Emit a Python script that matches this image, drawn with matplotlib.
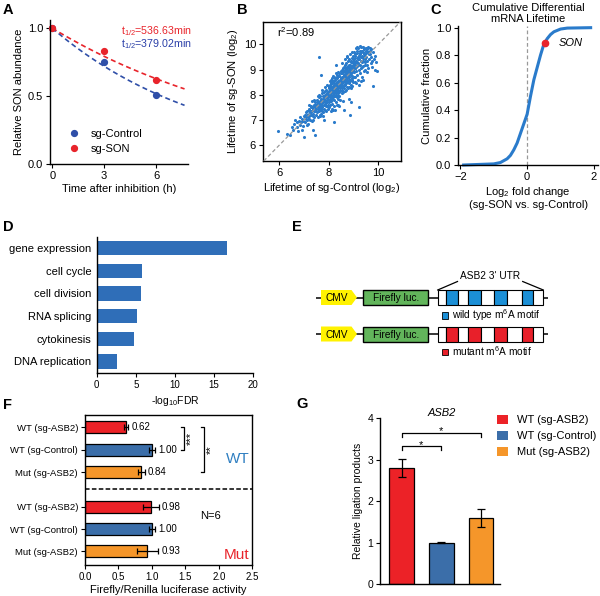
import numpy as np
import matplotlib
matplotlib.use('Agg')
import matplotlib.pyplot as plt
from matplotlib.patches import Rectangle, Polygon, Patch

plt.rcParams['font.family'] = ['Liberation Sans', 'DejaVu Sans']
plt.rcParams['mathtext.fontset'] = 'custom'
plt.rcParams['mathtext.rm'] = 'Liberation Sans'
plt.rcParams['mathtext.it'] = 'Liberation Sans:italic'
plt.rcParams['mathtext.bf'] = 'Liberation Sans:bold'
plt.rcParams['axes.linewidth'] = 1.0
plt.rcParams['xtick.major.size'] = 3
plt.rcParams['ytick.major.size'] = 3
plt.rcParams['xtick.major.pad'] = 2
plt.rcParams['ytick.major.pad'] = 2

# ---------------- data ----------------
# A
time_h = [0, 3, 6]
control_abund = [1.0, 0.75, 0.51]
son_abund = [1.0, 0.83, 0.62]
half_life_control = 379.02
half_life_son = 536.63

# B  (lifetime of sg-Control, lifetime of sg-SON), log2
lifetime_points = [
    (5.94, 6.57), (6.3, 6.45), (6.45, 6.4), (6.55, 6.6), (6.6, 6.85), (6.7, 6.7), (6.75, 6.55), (6.8, 6.95),
    (6.85, 6.8), (6.9, 7.05), (6.95, 6.75), (7.0, 6.33), (6.65, 7.0), (6.9, 6.6), (6.98, 7.15), (6.72, 6.9),
    (6.88, 6.9), (6.5, 6.72), (6.95, 6.95), (6.82, 7.1),
    (7.02, 7.1), (7.05, 6.9), (7.08, 7.3), (7.1, 7.0), (7.12, 7.2), (7.15, 6.85), (7.18, 7.4), (7.2, 7.15),
    (7.22, 7.05), (7.25, 7.3), (7.28, 7.5), (7.3, 7.2), (7.32, 6.95), (7.35, 7.4), (7.38, 7.25), (7.4, 7.6),
    (7.42, 7.1), (7.44, 6.4), (7.45, 7.35), (7.48, 7.5), (7.05, 7.2), (7.1, 7.35), (7.15, 7.1), (7.2, 7.45),
    (7.25, 7.0), (7.3, 7.55), (7.35, 7.15), (7.4, 7.35), (7.45, 7.7), (7.48, 7.2), (7.12, 6.8), (7.22, 7.6),
    (7.33, 7.75), (7.38, 7.0), (7.46, 7.45), (7.28, 7.35), (7.18, 7.25), (7.08, 7.05), (7.4, 7.8), (7.36, 6.6),
    (7.5, 7.6), (7.52, 7.3), (7.54, 7.8), (7.55, 7.45), (7.57, 7.1), (7.58, 7.65), (7.6, 7.5), (7.61, 7.9),
    (7.62, 7.35), (7.64, 7.7), (7.65, 7.55), (7.66, 7.2), (7.68, 7.85), (7.69, 7.6), (7.7, 7.4), (7.71, 8.05),
    (7.72, 7.7), (7.74, 7.5), (7.75, 7.95), (7.76, 7.3), (7.78, 7.75), (7.79, 7.6), (7.8, 8.1), (7.81, 7.45),
    (7.82, 7.85), (7.84, 7.65), (7.85, 8.0), (7.86, 7.4), (7.88, 7.9), (7.89, 7.7), (7.9, 8.2), (7.91, 7.55),
    (7.92, 7.95), (7.94, 7.8), (7.95, 8.1), (7.96, 7.6), (7.98, 7.85), (7.99, 8.3), (7.53, 7.55), (7.58, 7.95),
    (7.63, 7.15), (7.67, 7.45), (7.73, 8.2), (7.77, 7.15), (7.83, 8.3), (7.87, 7.55), (7.93, 8.4), (7.97, 7.45),
    (7.6, 8.0), (7.7, 7.25), (7.68, 8.77), (7.6, 9.48), (7.8, 7.0), (7.9, 7.35), (7.56, 7.7), (7.66, 7.95),
    (7.74, 7.35), (7.84, 8.15), (7.94, 7.7), (7.98, 8.05),
    (8.0, 8.0), (8.01, 7.7), (8.02, 8.25), (8.03, 7.9), (8.04, 8.4), (8.05, 7.6), (8.06, 8.1), (8.07, 7.85),
    (8.08, 8.35), (8.09, 8.0), (8.1, 7.75), (8.11, 8.2), (8.12, 8.5), (8.13, 7.95), (8.14, 8.15), (8.15, 7.65),
    (8.16, 8.3), (8.17, 8.05), (8.18, 8.55), (8.19, 7.85), (8.2, 8.25), (8.21, 8.0), (8.22, 8.45), (8.23, 7.8),
    (8.24, 8.15), (8.25, 8.35), (8.26, 7.95), (8.27, 8.6), (8.28, 8.1), (8.29, 7.7), (8.3, 8.3), (8.31, 8.05),
    (8.32, 8.5), (8.33, 7.9), (8.34, 8.2), (8.35, 8.65), (8.36, 8.0), (8.37, 8.4), (8.38, 7.85), (8.39, 8.25),
    (8.4, 8.55), (8.41, 8.1), (8.42, 8.75), (8.43, 7.95), (8.44, 8.35), (8.45, 8.5), (8.46, 8.15), (8.47, 7.8),
    (8.48, 8.45), (8.49, 8.65), (8.02, 7.5), (8.08, 8.6), (8.12, 7.45), (8.18, 8.75), (8.22, 7.55), (8.28, 8.85),
    (8.32, 7.6), (8.38, 8.9), (8.42, 7.55), (8.48, 8.95), (8.05, 8.2), (8.15, 8.45), (8.25, 8.1), (8.35, 8.45),
    (8.45, 8.3), (8.1, 8.05), (8.2, 8.4), (8.3, 8.15), (8.4, 8.3), (8.03, 8.55), (8.13, 8.65), (8.23, 8.7),
    (8.33, 8.8), (8.43, 8.85), (8.07, 7.35), (8.17, 7.4), (8.27, 7.4), (8.37, 7.6), (8.2, 6.9), (8.3, 9.2),
    (8.5, 8.6), (8.51, 8.3), (8.52, 8.85), (8.53, 8.45), (8.54, 9.0), (8.55, 8.2), (8.56, 8.7), (8.57, 8.5),
    (8.58, 9.05), (8.59, 8.35), (8.6, 8.8), (8.61, 8.6), (8.62, 9.1), (8.63, 8.25), (8.64, 8.9), (8.65, 8.55),
    (8.66, 9.2), (8.67, 8.4), (8.68, 8.75), (8.69, 8.95), (8.7, 8.5), (8.71, 9.25), (8.72, 8.65), (8.73, 8.3),
    (8.74, 9.0), (8.75, 8.8), (8.76, 9.35), (8.77, 8.55), (8.78, 8.9), (8.79, 9.15), (8.8, 8.45), (8.81, 9.05),
    (8.82, 8.7), (8.83, 9.4), (8.84, 8.85), (8.85, 8.6), (8.86, 9.2), (8.87, 8.95), (8.88, 8.4), (8.89, 9.3),
    (8.9, 8.8), (8.91, 9.1), (8.92, 8.65), (8.93, 9.45), (8.94, 9.0), (8.95, 8.75), (8.96, 9.25), (8.97, 8.5),
    (8.98, 9.1), (8.99, 9.55), (8.52, 8.05), (8.58, 8.1), (8.64, 8.15), (8.7, 8.2), (8.76, 8.25), (8.82, 8.3),
    (8.88, 8.25), (8.94, 8.35), (8.55, 9.25), (8.65, 9.4), (8.75, 9.5), (8.85, 9.6), (8.95, 9.7), (8.6, 8.95),
    (8.7, 8.85), (8.8, 9.0), (8.9, 9.15), (8.53, 8.7), (8.63, 8.7), (8.73, 8.6), (8.83, 8.6), (8.93, 8.9),
    (8.57, 7.75), (8.8, 7.85), (8.9, 7.7), (8.62, 7.4), (8.85, 7.2), (8.72, 9.55), (8.98, 8.7), (8.68, 9.05),
    (9.0, 9.2), (9.02, 8.9), (9.04, 9.45), (9.05, 9.05), (9.07, 8.7), (9.08, 9.6), (9.1, 9.3), (9.11, 8.95),
    (9.13, 9.75), (9.14, 9.15), (9.16, 8.8), (9.17, 9.5), (9.19, 9.25), (9.2, 9.85), (9.22, 9.0), (9.23, 9.4),
    (9.23, 7.52), (9.25, 9.65), (9.26, 8.85), (9.28, 9.2), (9.29, 9.9), (9.31, 9.5), (9.32, 9.05), (9.34, 9.75),
    (9.35, 8.7), (9.37, 9.35), (9.38, 9.9), (9.4, 9.15), (9.41, 9.6), (9.43, 8.95), (9.44, 9.8), (9.46, 9.4),
    (9.47, 9.0), (9.49, 9.65), (9.03, 9.7), (9.09, 9.85), (9.15, 9.9), (9.21, 9.55), (9.27, 9.95), (9.33, 9.3),
    (9.39, 8.6), (9.45, 9.2), (9.06, 8.5), (9.12, 8.45), (9.18, 8.6), (9.24, 8.4), (9.3, 8.55), (9.36, 9.55),
    (9.42, 9.85), (9.48, 9.3), (9.01, 9.35), (9.1, 9.1), (9.2, 9.2), (9.3, 9.35), (9.4, 9.45), (9.05, 9.55),
    (9.15, 9.65), (9.25, 9.75), (9.35, 9.1), (9.45, 9.55),
    (9.5, 9.5), (9.52, 9.85), (9.55, 9.2), (9.57, 9.7), (9.6, 9.9), (9.62, 9.4), (9.65, 9.6), (9.68, 9.85),
    (9.7, 9.25), (9.72, 9.5), (9.75, 9.1), (9.78, 9.7), (9.8, 8.35), (9.82, 9.4), (9.85, 9.0), (9.88, 9.55),
    (9.93, 8.95), (9.58, 9.05), (9.66, 9.75), (9.74, 9.35), (9.55, 8.9), (9.62, 9.6), (9.7, 9.8), (9.9, 9.3),
    (9.53, 9.35),
    (7.62, 7.62), (7.66, 7.75), (7.7, 7.65), (7.74, 7.8), (7.78, 7.7), (7.82, 7.95), (7.86, 7.8), (7.9, 8.0),
    (7.94, 7.9), (7.98, 8.1), (8.02, 8.0), (8.06, 8.2), (8.1, 8.1), (8.14, 8.3), (8.18, 8.15), (8.22, 8.35),
    (8.26, 8.25), (8.3, 8.45), (8.34, 8.3), (8.38, 8.55), (8.42, 8.4), (8.46, 8.6), (8.5, 8.45), (8.54, 8.65),
    (8.58, 8.55), (8.62, 8.8), (8.66, 8.65), (8.7, 8.9), (8.74, 8.75), (8.78, 8.95), (8.82, 8.85), (8.86, 9.05),
    (8.9, 8.95), (8.94, 9.15), (8.98, 9.0), (9.02, 9.2), (9.06, 9.1), (9.1, 9.35), (9.14, 9.2), (9.18, 9.4),
    (7.64, 7.5), (7.68, 7.55), (7.72, 7.6), (7.76, 7.85), (7.8, 7.75), (7.84, 7.9), (7.88, 7.75), (7.92, 8.05),
    (7.96, 7.95), (8.0, 8.15), (8.04, 8.05), (8.08, 7.95), (8.12, 8.25), (8.16, 8.1), (8.2, 8.3), (8.24, 8.2),
    (8.28, 8.4), (8.32, 8.25), (8.36, 8.5), (8.4, 8.35), (8.44, 8.55), (8.48, 8.4), (8.52, 8.6), (8.56, 8.5),
    (8.6, 8.7), (8.64, 8.6), (8.68, 8.85), (8.72, 8.7), (8.76, 8.95), (8.8, 8.8), (8.84, 9.0), (8.88, 8.85),
    (8.92, 9.1), (8.96, 8.95), (9.0, 9.15), (9.04, 9.05), (9.08, 9.25), (9.12, 9.15), (9.16, 9.3), (9.2, 9.45),
    (8.01, 8.35), (8.09, 8.45), (8.17, 8.55), (8.25, 8.65), (8.33, 8.7), (8.41, 8.75), (8.49, 8.85), (8.57, 8.9),
    (8.65, 9.0), (8.73, 9.1), (8.81, 9.2), (8.89, 9.35), (8.97, 9.4),
    (8.05, 7.8), (8.13, 7.9), (8.21, 7.95), (8.29, 8.0), (8.37, 8.1), (8.45, 8.2), (8.53, 8.3), (8.61, 8.4),
    (8.69, 8.45), (8.77, 8.5), (8.85, 8.55), (8.93, 8.6), (9.01, 8.7),
    (7.3, 7.3), (7.34, 7.5), (7.38, 7.45), (7.42, 7.55), (7.46, 7.6), (7.5, 7.45), (7.54, 7.65), (7.58, 7.55),
    (9.24, 9.55), (9.28, 9.6), (9.32, 9.7), (9.36, 9.75), (9.4, 9.7), (9.44, 9.65), (9.5, 9.75), (9.56, 9.8),
]
r_squared = 0.89

# C
log2fc = [-1.9, -1.0, -0.8, -0.6, -0.5, -0.4, -0.3, -0.2, -0.1, 0.0, 0.1, 0.2, 0.3, 0.4, 0.5,
          0.6, 0.7, 0.8, 0.9, 1.0, 1.2, 1.9]
cum_frac = [0.0, 0.008, 0.018, 0.045, 0.07, 0.11, 0.16, 0.23, 0.30, 0.37, 0.50, 0.62, 0.71, 0.80,
            0.88, 0.92, 0.95, 0.97, 0.98, 0.99, 0.997, 1.0]
son_fc, son_frac = 0.52, 0.89

# D
go_terms = ['gene expression', 'cell cycle', 'cell division', 'RNA splicing', 'cytokinesis', 'DNA replication']
go_neglog10fdr = [16.6, 5.8, 5.7, 5.2, 4.7, 2.6]

# F
f_labels = ['WT (sg-ASB2)', 'WT (sg-Control)', 'Mut (sg-ASB2)'] * 2
f_values = [0.62, 1.00, 0.84, 0.98, 1.00, 0.93]
f_errors = [0.03, 0.05, 0.05, 0.12, 0.05, 0.16]

# G
g_labels = ['WT (sg-ASB2)', 'WT (sg-Control)', 'Mut (sg-ASB2)']
g_values = [2.80, 1.00, 1.60]
g_errors = [0.22, 0.01, 0.22]

# ---------------- styling ----------------
RED = '#e8242b'
BLUE_DOT = '#2f4fa8'
SCAT = '#2a7bcb'
BAR_D = '#2f6eb8'
C_RED = '#ec2227'
C_BLUE = '#3b6ea9'
C_ORANGE = '#f5962a'

W, H = 600, 596
fig = plt.figure(figsize=(6, 5.96), dpi=100)


def box(l, t, r, b):
    return fig.add_axes([l / W, 1 - b / H, (r - l) / W, (b - t) / H])


def ftext(x, y, s, **kw):
    fig.text(x / W, 1 - y / H, s, **kw)


# ---------------- E (schematic, overlay) ----------------
axE = fig.add_axes([0, 0, 1, 1])
axE.set_xlim(0, W)
axE.set_ylim(H, 0)
axE.axis('off')
axE.patch.set_visible(False)
utr_edges = [437.7, 446, 458.3, 468.3, 480.7, 494, 506.7, 521.7, 533.3, 543.3]
E_BLUE = '#1b8fd6'
E_RED = '#e8202a'
for yc, motif_col, motif_txt in [(297.5, E_BLUE, 'wild type m$^6$A motif'),
                                 (334.0, E_RED, 'mutant m$^6$A motif')]:
    axE.plot([316, 548.3], [yc, yc], color='k', lw=1.1, zorder=1, solid_capstyle='butt')
    axE.add_patch(Polygon([(321, yc - 7.5), (351.5, yc - 7.5), (357, yc), (351.5, yc + 7.5), (321, yc + 7.5)],
                          closed=True, facecolor='#fff200', edgecolor='none', zorder=2))
    axE.text(337, yc + 0.5, 'CMV', ha='center', va='center', fontsize=7.3, zorder=3)
    axE.add_patch(Rectangle((363.3, yc - 7.5), 65, 15, facecolor='#62b55b', edgecolor='k', lw=1.0, zorder=2))
    axE.text(395.8, yc + 0.5, 'Firefly luc.', ha='center', va='center', fontsize=7.3, zorder=3)
    for i in range(len(utr_edges) - 1):
        fc = motif_col if i % 2 == 1 else 'white'
        axE.add_patch(Rectangle((utr_edges[i], yc - 7.5), utr_edges[i + 1] - utr_edges[i], 15,
                                facecolor=fc, edgecolor='k', lw=0.8, zorder=2))
    axE.add_patch(Rectangle((441.7, yc + 14.5), 6.6, 6.6, facecolor=motif_col, edgecolor='k', lw=0.6, zorder=2))
    axE.text(452.5, yc + 17.5, motif_txt, ha='left', va='center', fontsize=7.3)
axE.plot([437.7, 457.5], [290, 281.5], color='k', lw=0.9)
axE.plot([522.7, 543.3], [281.5, 290], color='k', lw=0.9)
axE.text(490, 276, "ASB2 3' UTR", ha='center', va='center', fontsize=7.3)

# ---------------- A ----------------
axA = box(50, 20, 188, 164)
t = np.linspace(0, 7.65, 100)
axA.plot(t, 0.5 ** (t * 60 / half_life_control), ls=(0, (3, 2)), color=BLUE_DOT, lw=1.2)
axA.plot(t, 0.5 ** (t * 60 / half_life_son), ls=(0, (3, 2)), color=RED, lw=1.2)
axA.plot(time_h, control_abund, 'o', color=BLUE_DOT, ms=4.2, label='sg-Control', clip_on=False)
axA.plot(time_h, son_abund, 'o', color=RED, ms=4.2, label='sg-SON', clip_on=False)
axA.set_xlim(-0.13, 7.85)
axA.set_ylim(0, 1.06)
axA.set_xticks([0, 3, 6])
axA.set_yticks([0, 0.5, 1.0])
axA.set_yticklabels(['0.0', '0.5', '1.0'])
axA.tick_params(labelsize=8)
for s in ['top', 'right']:
    axA.spines[s].set_visible(False)
axA.set_xlabel('Time after inhibition (h)', fontsize=8, labelpad=2)
axA.set_ylabel('Relative SON abundance', fontsize=8, labelpad=3)
ftext(121, 31.5, 't$_{1/2}$=%.2fmin' % half_life_son, color=RED, fontsize=7.7, va='center')
ftext(121, 44, 't$_{1/2}$=%.2fmin' % half_life_control, color='#2a3fa8', fontsize=7.7, va='center')
axA.legend(loc='lower left', bbox_to_anchor=(0.04, 0.0), frameon=False, fontsize=8,
           handletextpad=0.8, labelspacing=0.45, handlelength=1.5)

# ---------------- B ----------------
axB = box(263, 21.7, 401, 161)
pts = np.array(lifetime_points)
axB.scatter(pts[:, 0], pts[:, 1], s=5, color=SCAT, linewidths=0, zorder=2)
axB.axline((6, 6), slope=1, color='#999999', ls=(0, (3, 2)), lw=0.9, zorder=3)
axB.set_xlim(5.34, 10.92)
axB.set_ylim(5.37, 10.9)
axB.set_xticks([6, 8, 10])
axB.set_yticks([6, 7, 8, 9, 10])
axB.tick_params(labelsize=8)
axB.set_xlabel('Lifetime of sg-Control (log$_2$)', fontsize=8, labelpad=2)
axB.set_ylabel('Lifetime of sg-SON (log$_2$)', fontsize=8, labelpad=3)
axB.text(0.1, 0.89, 'r$^2$=%.2f' % r_squared, transform=axB.transAxes, fontsize=8)

# ---------------- C ----------------
axC = box(458.3, 26.3, 598, 165)
axC.plot(log2fc, cum_frac, color=SCAT, lw=2.2, clip_on=False, zorder=2)
axC.axvline(0, color='#999999', ls=(0, (3, 2)), lw=0.9, zorder=1)
axC.plot([son_fc], [son_frac], 'o', color=RED, ms=4.5, zorder=3)
axC.text(son_fc + 0.42, son_frac, 'SON', style='italic', fontsize=8, va='center')
axC.set_xlim(-2.06, 2.12)
axC.set_ylim(0, 1.01)
axC.set_xticks([-2, 0, 2])
axC.set_yticks([0, 0.2, 0.4, 0.6, 0.8, 1.0])
axC.set_yticklabels(['0.0', '0.2', '0.4', '0.6', '0.8', '1.0'])
axC.tick_params(labelsize=8)
for s in ['top', 'right']:
    axC.spines[s].set_visible(False)
axC.set_xlabel('Log$_2$ fold change\n(sg-SON vs. sg-Control)', fontsize=8, labelpad=2, linespacing=1.1)
axC.set_ylabel('Cumulative fraction', fontsize=8, labelpad=3)
axC.set_title('Cumulative Differential\nmRNA Lifetime', fontsize=8, pad=3, linespacing=1.1)

# ---------------- D ----------------
axD = box(96.7, 236.7, 253.3, 372.7)
yD = np.arange(len(go_terms))
axD.barh(yD, go_neglog10fdr, height=0.63, color=BAR_D)
axD.set_ylim(5.5, -0.5)
axD.set_xlim(0, 20)
axD.set_yticks(yD)
axD.set_yticklabels(go_terms, fontsize=8)
axD.tick_params(axis='y', length=0, pad=4)
axD.set_xticks([0, 5, 10, 15, 20])
axD.tick_params(axis='x', labelsize=7)
for s in ['top', 'right']:
    axD.spines[s].set_visible(False)
axD.set_xlabel('-log$_{10}$FDR', fontsize=7.5, labelpad=3)

# ---------------- F ----------------
axF = box(85, 415, 252.3, 565)
yF = [0, 1, 2, 3.55, 4.55, 5.55]
colsF = [C_RED, C_BLUE, C_ORANGE] * 2
axF.barh(yF, f_values, height=0.53, color=colsF, edgecolor='k', linewidth=0.9,
         xerr=f_errors, error_kw=dict(ecolor='k', elinewidth=0.9, capsize=2, capthick=0.9))
for y, v, e in zip(yF, f_values, f_errors):
    axF.text(v + e + 0.05, y, '%.2f' % v, va='center', ha='left', fontsize=7)
axF.axhline(2.77, color='k', ls=(0, (3, 1.5)), lw=1.1)
axF.set_xlim(0, 2.5)
axF.set_ylim(6.16, -0.55)
axF.set_yticks(yF)
axF.set_yticklabels(f_labels, fontsize=6.8)
axF.set_xticks([0, 0.5, 1.0, 1.5, 2.0, 2.5])
axF.set_xticklabels(['0.0', '0.5', '1.0', '1.5', '2.0', '2.5'])
axF.tick_params(axis='x', labelsize=7)
axF.set_xlabel('Firefly/Renilla luciferase activity', fontsize=8, labelpad=2)
axF.plot([1.44, 1.48, 1.48, 1.44], [0, 0, 1, 1], color='k', lw=0.9)
axF.text(1.58, 0.5, '***', rotation=90, ha='center', va='center', fontsize=8)
axF.plot([1.74, 1.78, 1.78, 1.74], [0, 0, 2, 2], color='k', lw=0.9)
axF.text(1.88, 1.0, '**', rotation=90, ha='center', va='center', fontsize=8)
axF.text(2.29, 1.43, 'WT', color='#2f7fc1', fontsize=11, ha='center', va='center')
axF.text(2.27, 5.73, 'Mut', color=RED, fontsize=11, ha='center', va='center')
axF.text(1.87, 3.96, 'N=6', fontsize=8, ha='center', va='center')

# ---------------- G ----------------
axG = box(380, 418.3, 500, 584)
xG = np.arange(len(g_values))
colsG = [C_RED, C_BLUE, C_ORANGE]
axG.bar(xG, g_values, width=0.63, color=colsG, edgecolor='k', linewidth=0.9,
        yerr=g_errors, error_kw=dict(ecolor='k', elinewidth=0.9, capsize=3, capthick=0.9))
axG.set_xlim(-0.55, 2.48)
axG.set_ylim(0, 4)
axG.set_xticks([])
axG.set_yticks([0, 1, 2, 3, 4])
axG.tick_params(axis='y', labelsize=7.5)
for s in ['top', 'right']:
    axG.spines[s].set_visible(False)
axG.set_ylabel('Relative ligation products', fontsize=7.5, labelpad=3)
axG.text(1.0, 4.12, 'ASB2', style='italic', ha='center', va='center', fontsize=8, clip_on=False)
axG.plot([0, 0, 1, 1], [3.24, 3.32, 3.32, 3.24], color='k', lw=0.9, clip_on=False)
axG.text(0.48, 3.36, '*', ha='center', va='center', fontsize=8)
axG.plot([0, 0, 2, 2], [3.56, 3.64, 3.64, 3.56], color='k', lw=0.9, clip_on=False)
axG.text(1.0, 3.68, '*', ha='center', va='center', fontsize=8)
handles = [Patch(facecolor=c, edgecolor='none') for c in colsG]
axG.legend(handles, g_labels, loc='upper left', bbox_to_anchor=(496.7 / W, 1 - 415 / H),
           bbox_transform=fig.transFigure, frameon=False, fontsize=8, borderpad=0, borderaxespad=0,
           handlelength=1.05, handleheight=0.85, handletextpad=0.75, labelspacing=0.5)

# ---------------- panel letters ----------------
for letter, x, y in [('A', 3, 10), ('B', 237, 10), ('C', 430, 10), ('D', 3, 227),
                     ('E', 292, 227), ('F', 3, 405), ('G', 296, 404)]:
    ftext(x, y, letter, fontsize=10.5, fontweight='bold', va='center', ha='left')

fig.savefig('out.png', dpi=100)
